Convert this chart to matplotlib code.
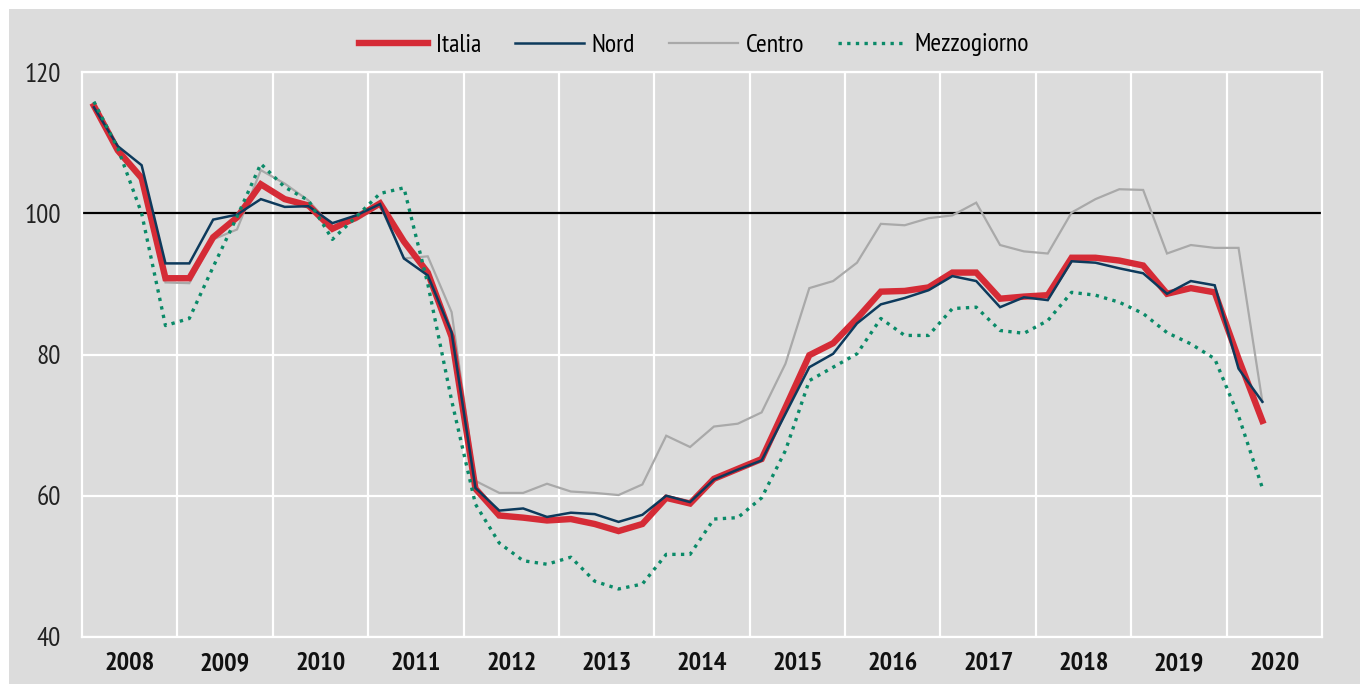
import matplotlib
matplotlib.use("Agg")
import matplotlib.pyplot as plt
from matplotlib.patches import Rectangle
from matplotlib import font_manager as fm

# ---- data (quarterly index, 2008Q1 .. 2020Q2) ----
years = ["2008", "2009", "2010", "2011", "2012", "2013", "2014",
         "2015", "2016", "2017", "2018", "2019", "2020"]

italia = [115.2, 108.9, 105.0, 90.8, 90.8, 96.6, 99.4, 104.1,
          102.0, 101.1, 97.8, 99.4, 101.4, 96.0, 91.6, 82.5,
          61.0, 57.2, 56.9, 56.5, 56.7, 56.0, 55.0, 56.0,
          59.7, 58.9, 62.4, 63.8, 65.2, 72.5, 79.9, 81.6,
          85.1, 88.9, 89.0, 89.5, 91.6, 91.6, 87.9, 88.2,
          88.4, 93.7, 93.7, 93.3, 92.6, 88.6, 89.4, 88.8,
          79.4, 70.6]

nord = [115.0, 109.5, 106.8, 92.9, 92.9, 99.1, 99.8, 102.0,
        100.9, 101.0, 98.6, 99.7, 101.3, 93.6, 91.2, 83.1,
        61.1, 57.9, 58.2, 57.0, 57.6, 57.4, 56.3, 57.3,
        60.0, 59.1, 62.3, 63.7, 65.0, 71.6, 78.2, 80.1,
        84.4, 87.1, 88.0, 89.1, 91.1, 90.4, 86.7, 88.1,
        87.7, 93.2, 93.0, 92.2, 91.5, 88.6, 90.4, 89.8,
        78.0, 73.3]

centro = [114.8, 108.5, 104.5, 90.2, 90.1, 96.3, 97.7, 106.1,
          104.2, 101.8, 98.0, 99.0, 101.1, 93.6, 93.9, 86.0,
          62.1, 60.4, 60.4, 61.7, 60.6, 60.4, 60.1, 61.6,
          68.5, 66.9, 69.8, 70.2, 71.8, 78.7, 89.4, 90.4,
          93.0, 98.5, 98.3, 99.3, 99.7, 101.5, 95.5, 94.6,
          94.3, 100.1, 102.0, 103.4, 103.3, 94.3, 95.5, 95.1,
          95.1, 73.3]

mezzogiorno = [115.8, 109.2, 100.0, 84.1, 85.1, 92.4, 99.5, 107.0,
               103.7, 101.8, 96.3, 99.5, 102.8, 103.6, 90.0, 73.5,
               58.8, 53.3, 50.8, 50.3, 51.3, 47.9, 46.8, 47.5,
               51.7, 51.7, 56.7, 56.9, 59.7, 66.4, 76.3, 78.2,
               80.1, 85.1, 82.7, 82.7, 86.5, 86.7, 83.4, 83.0,
               84.8, 88.8, 88.4, 87.4, 85.8, 83.1, 81.5, 79.4,
               71.3, 61.1]

series_names = ["Italia", "Nord", "Centro", "Mezzogiorno"]
yticks = [40, 60, 80, 100, 120]

# ---- fonts ----
available = {f.name for f in fm.fontManager.ttflist}
FONT = "Liberation Sans"
for cand in ["Liberation Sans Narrow", "PT Sans Narrow", "Roboto Condensed", "Archivo Narrow"]:
    if cand in available:
        FONT = cand
        break
plt.rcParams["font.family"] = [FONT, "DejaVu Sans"]
narrow = FONT != "Liberation Sans"
fs_y = 19.5 if narrow else 15
fs_x = 19 if narrow else 15
fs_leg = 18.5 if narrow else 15

BG = "#dcdcdc"
fig = plt.figure(figsize=(13.6, 6.84), dpi=100, facecolor="white")
fig.patches.append(Rectangle((9 / 1360, 0), 1, 1 - 9 / 684, transform=fig.transFigure,
                             facecolor=BG, edgecolor="none", zorder=-10))

ax = fig.add_axes([82 / 1360, 1 - 637 / 684, (1322 - 82) / 1360, (637 - 72) / 684])
ax.set_facecolor(BG)

x = list(range(len(italia)))

ax.plot(x, centro, color="#a9a9a9", lw=1.6, zorder=3, label="Centro", solid_joinstyle="miter")
ax.plot(x, italia, color="#d52b36", lw=4.6, zorder=4, label="Italia", solid_joinstyle="miter")
ax.plot(x, nord, color="#0d3a5c", lw=1.8, zorder=5, label="Nord", solid_joinstyle="miter")
ax.plot(x, mezzogiorno, color="#0a8a68", lw=2.4, zorder=6, label="Mezzogiorno",
        linestyle=(0, (1, 1.6)))

ax.axhline(100, color="black", lw=1.6, zorder=2.5)

ax.set_xlim(-0.5, len(years) * 4 - 0.5)
ax.set_ylim(40, 120)
ax.set_yticks(yticks)
ax.set_yticklabels([str(v) for v in yticks], fontsize=fs_y, color="#222222")

ax.set_xticks([1.5 + 4 * k for k in range(len(years))])
ax.set_xticklabels(years, fontsize=fs_x, fontweight="bold", color="#111111")
ax.set_xticks([3.5 + 4 * k for k in range(len(years) - 1)], minor=True)
ax.tick_params(axis="both", which="both", length=0)
ax.tick_params(axis="x", pad=11)
ax.tick_params(axis="y", pad=15)

ax.grid(True, axis="y", which="major", color="white", lw=1.6, zorder=1)
ax.grid(True, axis="x", which="minor", color="white", lw=1.6, zorder=1)
ax.grid(False, axis="x", which="major")
for s in ax.spines.values():
    s.set_color("white")
    s.set_linewidth(1.6)

handles, labels = ax.get_legend_handles_labels()
order = [labels.index(n) for n in series_names]
leg = fig.legend([handles[i] for i in order], [labels[i] for i in order],
                 loc="center", bbox_to_anchor=(694 / 1360, 1 - 45 / 684), ncol=4,
                 frameon=False, fontsize=fs_leg, handlelength=2.7, handletextpad=0.3,
                 columnspacing=1.3)

fig.savefig("out.png", dpi=100, facecolor="white")
